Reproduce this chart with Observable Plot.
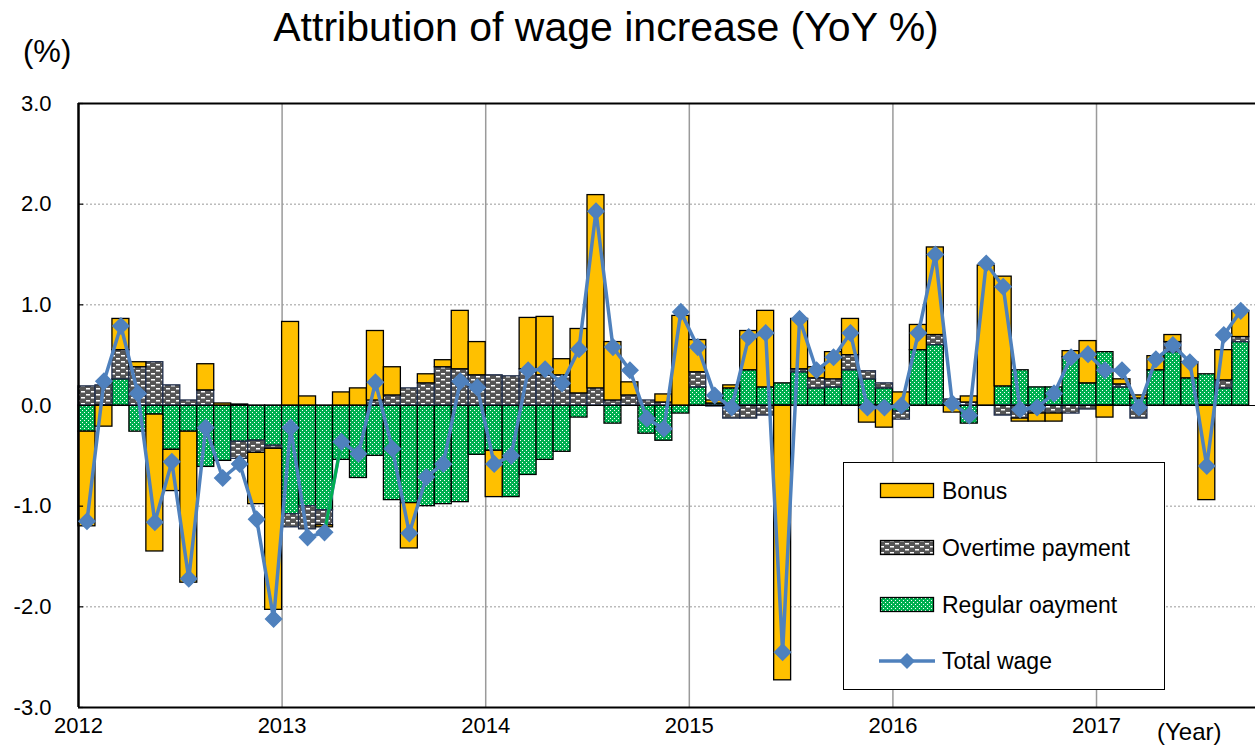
<!DOCTYPE html>
<html>
<head>
<meta charset="utf-8">
<script src="https://cdn.jsdelivr.net/npm/d3@7"></script>
<script src="https://cdn.jsdelivr.net/npm/@observablehq/plot@0.6"></script>
<style>
  body { margin: 0; background: #fff; font-family: "Liberation Sans", Arial, sans-serif; }
  #wrap { position: relative; width: 1255px; height: 745px; overflow: hidden; }
  #chart { position: absolute; left: 0; top: 0; }
  #title { position: absolute; left: 0; width: 1212px; top: 7px; text-align: center; font-size: 41px; line-height: 41px; color: #000; }
  #unit { position: absolute; left: 23px; top: 36px; font-size: 31px; line-height: 31px; }
  #xunit { position: absolute; left: 1157px; top: 720px; font-size: 24px; line-height: 24px; }
  #legend { position: absolute; left: 843px; top: 462px; width: 320px; height: 226px; border: 1.5px solid #000; background: #fff; }
  .li { position: absolute; left: 0; height: 30px; width: 320px; }
  .li svg { position: absolute; left: 35px; top: 0; }
  .li span { position: absolute; left: 98px; top: -4px; font-size: 23px; line-height: 26px; }
</style>
</head>
<body>
<div id="wrap">
  <div id="chart"></div>
  <div id="title">Attribution of wage increase (YoY %)</div>
  <div id="unit">(%)</div>
  <div id="xunit">(Year)</div>
  <div id="legend"></div>
</div>
<script>
// ---- data (Jan 2012 .. Sep 2017, monthly, YoY % contribution) ----
const years = [2012, 2013, 2014, 2015, 2016, 2017];
const seriesNames = ["Bonus", "Overtime payment", "Regular oayment", "Total wage"];

const regular = [
  -0.26, 0.00, 0.26, -0.26, -0.09, -0.44, -0.26, -0.61, -0.55, -0.36, -0.35, -0.40,
  -1.08, -1.00, -1.04, -0.54, -0.72, -0.50, -0.94, -0.97, -1.00, -0.98, -0.96, -0.49,
  -0.45, -0.91, -0.69, -0.54, -0.46, -0.12, 0.00, -0.18, 0.00, -0.28, -0.35, -0.08,
  0.18, 0.02, 0.17, 0.35, 0.18, 0.22, 0.33, 0.17, 0.18, 0.35, 0.26, 0.17,
  -0.06, 0.55, 0.60, 0.02, -0.18, 0.00, 0.19, 0.35, 0.18, 0.18, 0.48, 0.22,
  0.53, 0.18, 0.07, 0.35, 0.53, 0.27, 0.31, 0.17, 0.63
];
const overtime = [
  0.19, 0.20, 0.29, 0.38, 0.43, 0.20, 0.05, 0.15, 0.00, -0.17, -0.12, -0.03,
  -0.13, -0.23, -0.15, 0.00, 0.00, 0.05, 0.10, 0.17, 0.22, 0.38, 0.36, 0.30,
  0.30, 0.29, 0.36, 0.30, 0.30, 0.12, 0.17, 0.05, 0.10, 0.05, 0.03, 0.00,
  0.15, -0.01, -0.13, -0.13, -0.10, 0.00, 0.03, 0.10, 0.08, 0.15, 0.08, 0.05,
  -0.08, 0.00, 0.10, 0.04, 0.03, 0.00, -0.10, -0.13, -0.08, -0.08, -0.08, -0.04,
  0.00, 0.03, -0.13, 0.00, 0.10, 0.00, 0.00, 0.08, 0.05
];
const bonus = [
  -0.94, -0.21, 0.31, 0.05, -1.36, -0.41, -1.50, 0.26, 0.02, 0.01, -0.51, -1.60,
  0.83, 0.09, -0.02, 0.13, 0.17, 0.69, 0.28, -0.45, 0.09, 0.07, 0.58, 0.33,
  -0.46, 0.00, 0.51, 0.58, 0.16, 0.64, 1.92, 0.58, 0.13, 0.00, 0.08, 0.89,
  0.32, 0.03, 0.03, 0.39, 0.76, -2.73, 0.50, 0.11, 0.27, 0.36, -0.17, -0.22,
  0.13, 0.25, 0.87, -0.07, 0.06, 1.39, 1.09, -0.03, -0.08, -0.08, 0.06, 0.42,
  -0.12, 0.05, 0.03, 0.14, 0.07, 0.16, -0.94, 0.30, 0.26
];
const total = [
  -1.15, 0.24, 0.79, 0.12, -1.16, -0.56, -1.72, -0.22, -0.72, -0.58, -1.13, -2.12,
  -0.22, -1.31, -1.26, -0.36, -0.48, 0.23, -0.43, -1.27, -0.71, -0.58, 0.24, 0.18,
  -0.58, -0.50, 0.35, 0.36, 0.22, 0.56, 1.93, 0.58, 0.35, -0.13, -0.23, 0.93,
  0.58, 0.10, -0.02, 0.68, 0.72, -2.45, 0.86, 0.35, 0.48, 0.72, -0.02, -0.02,
  0.00, 0.72, 1.50, 0.02, -0.10, 1.41, 1.18, -0.04, -0.02, 0.12, 0.48, 0.51,
  0.35, 0.35, -0.02, 0.46, 0.60, 0.43, -0.60, 0.70, 0.94
];
const yTicks = [-3, -2, -1, 0, 1, 2, 3];

// ---- pattern definitions (inserted in each svg) ----
const PATTERN_DEFS = `
  <pattern id="PID_reg" width="4" height="4" patternUnits="userSpaceOnUse">
    <rect x="0" y="0" width="4" height="4" fill="#00B050"></rect>
    <rect x="0" y="0" width="1" height="1" fill="#ffffff"></rect>
    <rect x="2" y="2" width="1" height="1" fill="#ffffff"></rect>
  </pattern>
  <pattern id="PID_ot" width="10" height="6" patternUnits="userSpaceOnUse">
    <rect x="0" y="0" width="10" height="6" fill="#555555"></rect>
    <rect x="1" y="1" width="4" height="1.5" fill="#ffffff"></rect>
    <rect x="6" y="4" width="4" height="1.5" fill="#ffffff"></rect>
  </pattern>`;

// ---- build stacked (diverging) rectangles: regular, overtime, bonus ----
const COLORS = { bonus: "#FFC000", ot: "url(#c_ot)", reg: "url(#c_reg)", line: "#4F81BD" };
const stackOrder = [
  { key: "reg", values: regular },
  { key: "ot", values: overtime },
  { key: "bonus", values: bonus }
];
const rects = [];
for (let i = 0; i < total.length; i++) {
  let pos = 0, neg = 0;
  for (const s of stackOrder) {
    const v = s.values[i];
    let y1, y2;
    if (v >= 0) { y1 = pos; y2 = pos + v; pos = y2; }
    else { y1 = neg; y2 = neg + v; neg = y2; }
    rects.push({ i, key: s.key, y1, y2 });
  }
}
const pts = total.map((v, i) => ({ i, v }));
const yearTicks = years.map((y, k) => k * 12);

const barMark = (key, stroke) => Plot.rect(rects.filter(d => d.key === key), {
  x1: d => d.i, x2: d => d.i + 1, y1: "y1", y2: "y2",
  fill: "#FFC000", stroke, strokeWidth: 1.3, className: "bar-" + key
});

const chart = Plot.plot({
  width: 1255,
  height: 745,
  marginTop: 103,
  marginBottom: 38,
  marginLeft: 78,
  marginRight: 0,
  style: { fontFamily: '"Liberation Sans", Arial, sans-serif', fontSize: "22px", color: "#000", background: "#fff" },
  x: { type: "linear", domain: [0, 69.37], ticks: yearTicks, tickFormat: d => String(years[d / 12]), tickSize: 0, tickPadding: 10, label: null },
  y: { type: "linear", domain: [-3, 3], ticks: yTicks, tickFormat: d => d.toFixed(1), tickSize: 0, tickPadding: 27, label: null },
  marks: [
    Plot.ruleY([-2, -1, 1, 2], { stroke: "#9a9a9a", strokeWidth: 1, strokeDasharray: "2,2" }),
    Plot.ruleX(yearTicks.slice(1), { stroke: "#9a9a9a", strokeWidth: 1.5 }),
    barMark("reg", "#000"),
    barMark("ot", "#1f2d4a"),
    barMark("bonus", "#000"),
    Plot.ruleY([0], { stroke: "#000", strokeWidth: 1 }),
    Plot.ruleY([3, -3], { stroke: "#000", strokeWidth: 1.8 }),
    Plot.ruleX([0], { stroke: "#000", strokeWidth: 2.5 }),
    Plot.ruleY(yTicks, { x1: 0, x2: 0.3, stroke: "#000", strokeWidth: 1.2 }),
    Plot.line(pts, { x: d => d.i + 0.5, y: "v", stroke: COLORS.line, strokeWidth: 3.5 }),
    Plot.line(pts.slice(14, 16), { x: d => d.i + 0.5, y: "v", stroke: "#00B050", strokeWidth: 3 }),
    Plot.dot(pts, { x: d => d.i + 0.5, y: "v", symbol: "diamond2", r: 7.2, fill: COLORS.line, stroke: COLORS.line })
  ]
});

// insert patterns into the chart svg and apply them to the pattern-filled bars
const svg = d3.select(chart);
svg.insert("defs", ":first-child").html(PATTERN_DEFS.replace(/PID_/g, "c_"));
svg.selectAll(".bar-reg, .bar-reg rect").attr("fill", COLORS.reg);
svg.selectAll(".bar-ot, .bar-ot rect").attr("fill", COLORS.ot);
document.getElementById("chart").appendChild(chart);

// ---- legend ----
const legend = document.getElementById("legend");
const legendItems = [
  { name: seriesNames[0], type: "bar", fill: COLORS.bonus, top: 19 },
  { name: seriesNames[1], type: "bar", fill: "url(#l_ot)", top: 76 },
  { name: seriesNames[2], type: "bar", fill: "url(#l_reg)", top: 133 },
  { name: seriesNames[3], type: "line", fill: COLORS.line, top: 189 }
];
legendItems.forEach((it, k) => {
  const row = document.createElement("div");
  row.className = "li";
  row.style.top = it.top + "px";
  let sw;
  if (it.type === "bar") {
    sw = `<svg width="58" height="30"><defs>${k === 1 || k === 2 ? PATTERN_DEFS.replace(/PID_/g, "l_") : ""}</defs><rect x="1.5" y="1.5" width="53" height="14" fill="${it.fill}" stroke="#000" stroke-width="1.3"/></svg>`;
  } else {
    sw = `<svg width="58" height="30"><line x1="0" x2="56" y1="9" y2="9" stroke="${it.fill}" stroke-width="3.5"/><path d="M28,1 L36,9 L28,17 L20,9 Z" fill="${it.fill}"/></svg>`;
  }
  row.innerHTML = sw + `<span>${it.name}</span>`;
  legend.appendChild(row);
});
</script>
</body>
</html>
